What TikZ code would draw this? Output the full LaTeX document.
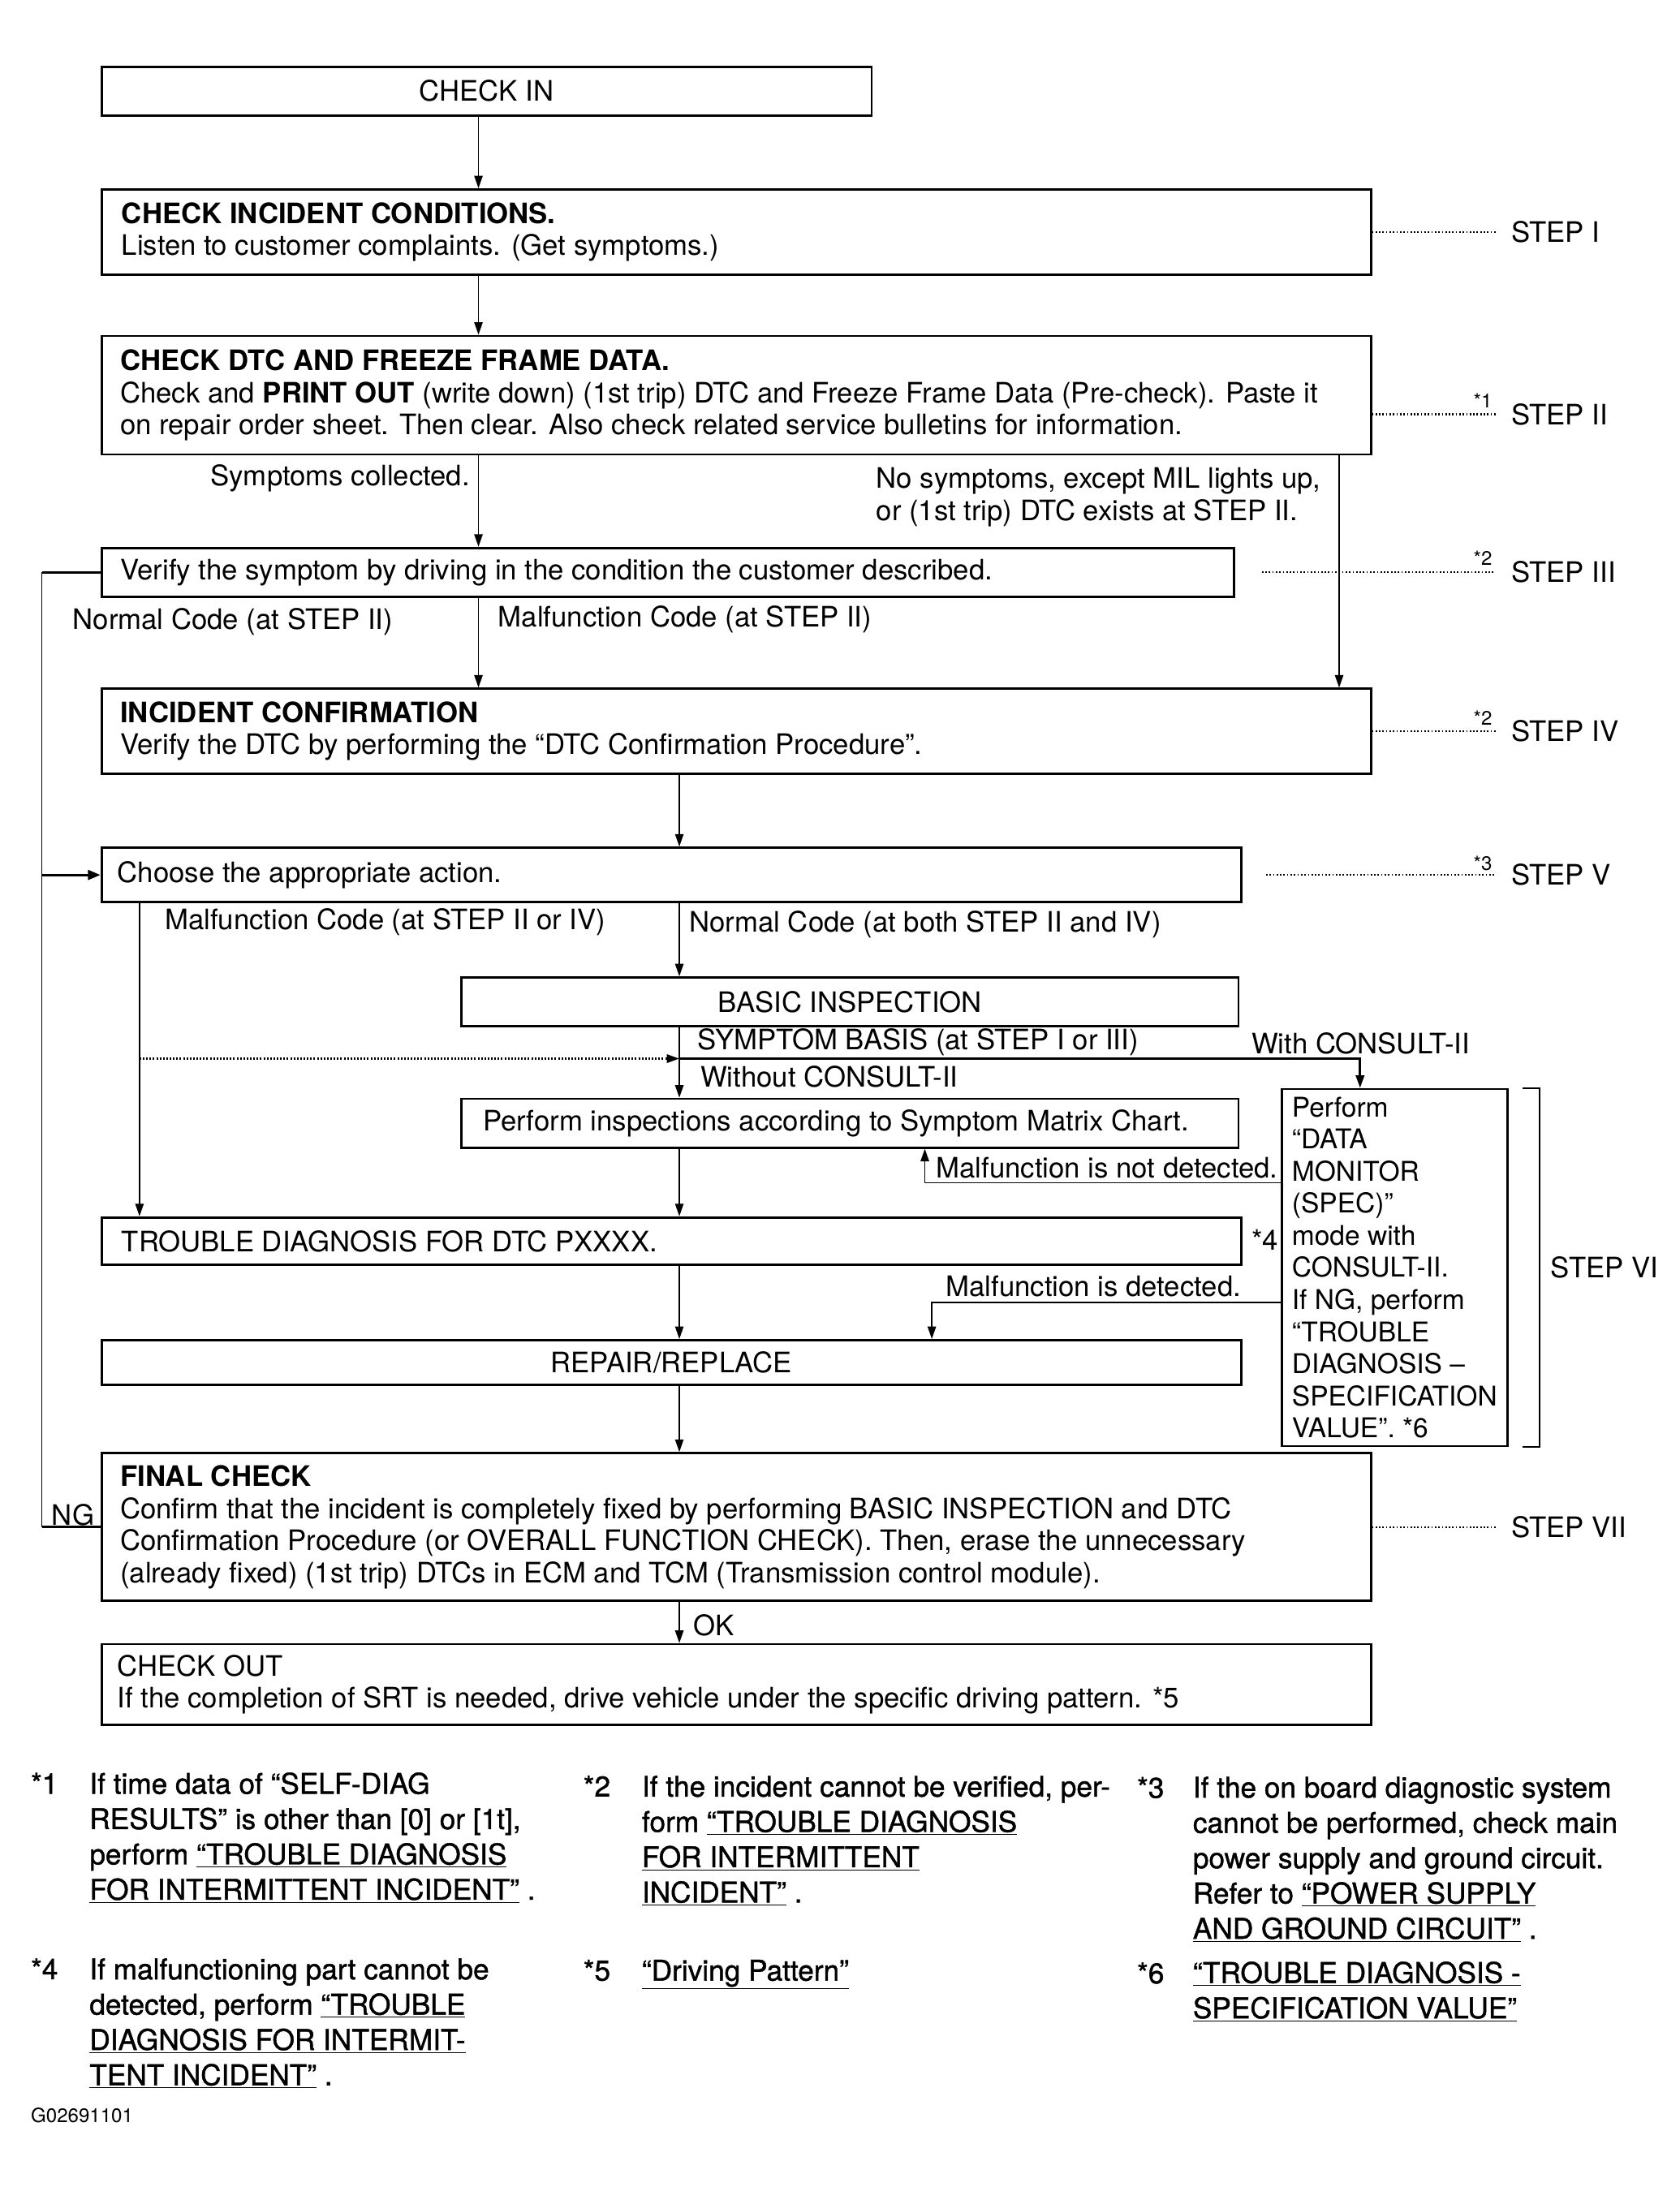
\documentclass[tikz,border=0pt]{standalone}
\usepackage{fontspec}
\setmainfont{TeX Gyre Heros}
\newfontfamily\notefont{TeX Gyre Heros}[FakeBold=1.2]
\usetikzlibrary{arrows.meta,calc,positioning}

\newcommand{\chartsize}{\fontsize{20.2}{23}\selectfont}
\newcommand{\notesize}{\notefont\fontsize{20.5}{25.3}\selectfont}
\newcommand{\fnlink}[1]{\underline{#1}}

\tikzset{
  box/.style={draw,line width=1.6pt,anchor=north west,inner sep=0pt},
  boxtext/.style={anchor=west,inner sep=0pt,align=left},
  lbl/.style={anchor=west,inner sep=0pt,align=left},
  flow/.style={line width=1pt,-{Triangle[length=9pt,width=6pt]}},
  stub/.style={line width=1.8pt},
  stepdots/.style={line width=1.2pt,dash pattern=on 1pt off 1.5pt},
  steplbl/.style={anchor=west,inner sep=0pt,xshift=11pt},
  star/.style={inner sep=0pt,font=\fontsize{14}{14}\selectfont},
  note/.style={anchor=base west,inner sep=0pt,align=left,font=\notesize},
}

\begin{document}
\begin{tikzpicture}[x=1pt,y=-1pt,font=\chartsize]
  \useasboundingbox (0,0) rectangle (1204,1568);

  % columns and levels of the connectors
  \coordinate (colL) at (30,0);
  \coordinate (colM) at (100,0);
  \coordinate (colA) at (343,0);
  \coordinate (colB) at (487,0);
  \coordinate (colR) at (960,0);
  \coordinate (withc) at (975,0);
  \coordinate (stepx) at (1072,0);
  \coordinate (s2) at (0,297);
  \coordinate (split) at (487,759);
  \coordinate (notdet) at (663,848);
  \coordinate (isdet) at (668,934);

  % boxes
  \node[box,minimum width=552pt,minimum height=35pt] (checkin) at (72,47) {CHECK IN};
  \node[box,minimum width=910pt,minimum height=61pt] (incident) at (72,135) {};
  \node[boxtext] (incidentT) at ([xshift=15pt]incident.west)
    {\textbf{CHECK INCIDENT CONDITIONS.}\\Listen to customer complaints. (Get symptoms.)};
  \node[box,minimum width=910pt,minimum height=85pt] (dtc) at (72,240) {};
  \node[boxtext] (dtcT) at ([xshift=14pt]dtc.west)
    {\textbf{CHECK DTC AND FREEZE FRAME DATA.}\\
     Check and \textbf{PRINT OUT} (write down) (1st trip) DTC and Freeze Frame Data (Pre-check). Paste it\\
     on repair order sheet. Then clear. Also check related service bulletins for information.};
  \node[box,minimum width=812pt,minimum height=35pt] (verify) at (72,392) {};
  \node[boxtext] (verifyT) at ([xshift=14pt]verify.west)
    {Verify the symptom by driving in the condition the customer described.};
  \node[box,minimum width=910pt,minimum height=61pt] (confirm) at (72,493) {};
  \node[boxtext] (confirmT) at ([xshift=14pt]confirm.west)
    {\textbf{INCIDENT CONFIRMATION}\\Verify the DTC by performing the “DTC Confirmation Procedure”.};
  \node[box,minimum width=817pt,minimum height=39pt] (choose) at (72,607) {};
  \node[boxtext] (chooseT) at ([xshift=12pt]choose.west) {Choose the appropriate action.};
  \node[box,minimum width=557pt,minimum height=35pt] (basic) at (330,700) {BASIC INSPECTION};
  \node[box,minimum width=557pt,minimum height=35pt] (matrix) at (330,787) {};
  \node[boxtext] (matrixT) at ([xshift=16pt]matrix.west)
    {Perform inspections according to Symptom Matrix Chart.};
  \node[box,minimum width=162pt,minimum height=256pt] (monitor) at (918,780) {};
  \node[boxtext,font=\fontsize{19.5}{23}\selectfont] (monitorT) at ([xshift=8pt]monitor.west)
    {Perform\\“DATA\\MONITOR\\(SPEC)”\\mode with\\CONSULT-II.\\If NG, perform\\“TROUBLE\\DIAGNOSIS –\\SPECIFICATION\\VALUE”. *6};
  \node[box,minimum width=817pt,minimum height=34pt] (trouble) at (72,872) {};
  \node[boxtext] (troubleT) at ([xshift=15pt]trouble.west) {TROUBLE DIAGNOSIS FOR DTC PXXXX.};
  \node[box,minimum width=817pt,minimum height=32pt] (repair) at (72,960) {REPAIR/REPLACE};
  \node[box,minimum width=910pt,minimum height=106pt] (final) at (72,1041) {};
  \node[boxtext] (finalT) at ([xshift=14pt]final.west)
    {\textbf{FINAL CHECK}\\
     Confirm that the incident is completely fixed by performing BASIC INSPECTION and DTC\\
     Confirmation Procedure (or OVERALL FUNCTION CHECK). Then, erase the unnecessary\\
     (already fixed) (1st trip) DTCs in ECM and TCM (Transmission control module).};
  \node[box,minimum width=910pt,minimum height=58pt] (checkout) at (72,1178) {};
  \node[boxtext] (checkoutT) at ([xshift=12pt]checkout.west)
    {CHECK OUT\\If the completion of SRT is needed, drive vehicle under the specific driving pattern. *5};

  % main flow
  \draw[flow] (checkin.south -| colA) -- (incident.north -| colA);
  \draw[flow] (incident.south -| colA) -- (dtc.north -| colA);
  \draw[flow] (dtc.south -| colA) -- (verify.north -| colA);
  \draw[flow] (dtc.south -| colR) -- (confirm.north -| colR);
  \draw[flow] (verify.south -| colA) -- (confirm.north -| colA);
  \draw[flow] (confirm.south -| colB) -- (choose.north -| colB);
  \draw[flow] (choose.south -| colM) -- (trouble.north -| colM);
  \draw[flow] (choose.south -| colB) -- (basic.north -| colB);
  \draw[flow] (basic.south -| colB) -- (matrix.north -| colB);
  \draw[flow,line width=1.6pt] (split) -| (monitor.north -| withc);
  \draw[flow,dash pattern=on 1.2pt off 1.2pt,line width=1.4pt] (colM |- split) -- (split);
  \draw[flow] (monitor.west |- notdet) -| (matrix.south -| notdet);
  \draw[flow] (monitor.west |- isdet) -| (repair.north -| isdet);
  \draw[flow] (matrix.south -| colB) -- (trouble.north -| colB);
  \draw[flow] (trouble.south -| colB) -- (repair.north -| colB);
  \draw[flow] (repair.south -| colB) -- (final.north -| colB);
  \draw[flow] (final.south -| colB) -- (checkout.north -| colB);

  % return loop on the left
  \draw[line width=1pt] (colL |- verify.west) -- (colL |- final.west);
  \draw[stub] (verify.west) -- (colL |- verify.west);
  \draw[stub] (final.west) -- (colL |- final.west);
  \draw[stub,-{Triangle[length=9pt,width=7pt]}] (colL |- choose.west) -- (choose.west);

  % branch labels
  \node[lbl,anchor=east] (symp) at (337,343) {Symptoms collected.};
  \node[lbl] (nosymp) at (628,356.5) {No symptoms, except MIL lights up,\\or (1st trip) DTC exists at STEP II.};
  \node[lbl] (normal2) at (52,446) {Normal Code (at STEP II)};
  \node[lbl] (malf2) at (357,444) {Malfunction Code (at STEP II)};
  \node[lbl] (malf24) at (118,661) {Malfunction Code (at STEP II or IV)};
  \node[lbl] (normal24) at (494,663) {Normal Code (at both STEP II and IV)};
  \node[lbl] (sbasis) at (500,747) {SYMPTOM BASIS (at STEP I or III)};
  \node[lbl] (withcon) at (897,748) {With CONSULT-II};
  \node[lbl] (withoutcon) at (502,772) {Without CONSULT-II};
  \node[lbl] (notdetT) at (671,837) {Malfunction is not detected.};
  \node[lbl] (isdetT) at (678,922) {Malfunction is detected.};
  \node[lbl] (star4) at (897,889) {*4};
  \node[lbl] (ng) at (37,1086) {NG};
  \node[lbl] (ok) at (497,1165) {OK};

  % steps
  \draw[stepdots] (incident.east) -- (stepx |- incident.east) node[steplbl] (stepI) {STEP I};
  \draw[stepdots] (dtc.east |- s2) -- (stepx |- s2) node[steplbl] (stepII) {STEP II};
  \draw[stepdots] ([xshift=19pt]verify.east) -- (stepx |- verify.east) node[steplbl] (stepIII) {STEP III};
  \draw[stepdots] (confirm.east) -- (stepx |- confirm.east) node[steplbl] (stepIV) {STEP IV};
  \draw[stepdots] ([xshift=17pt]choose.east) -- (stepx |- choose.east) node[steplbl] (stepV) {STEP V};
  \draw[stepdots] (final.east) -- (stepx |- final.east) node[steplbl] (stepVII) {STEP VII};
  \draw[line width=1.2pt] ([xshift=10pt]monitor.north east) -- ++(12,0)
    -- ([xshift=22pt]monitor.south east) -- ++(-12,0);
  \node[lbl] (stepVI) at ([xshift=30pt]monitor.east) {STEP VI};
  \node[star] (s1) at (1063,287) {*1};
  \node[star] (s3) at (1063,400) {*2};
  \node[star] (s4) at (1063,515) {*2};
  \node[star] (s5) at (1063,619) {*3};

  % notes (base = last line)
  \node[note] (fm1) at (22,1286) {*1};
  \node[note] (fn1) at (64,1362) {If time data of “SELF-DIAG\\RESULTS” is other than [0] or [1t],\\perform \fnlink{“TROUBLE DIAGNOSIS}\\\fnlink{FOR INTERMITTENT INCIDENT”} .};
  \node[note] (fm2) at (418,1288) {*2};
  \node[note] (fn2) at (460,1364) {If the incident cannot be verified, per-\\form \fnlink{“TROUBLE DIAGNOSIS}\\\fnlink{FOR INTERMITTENT}\\\fnlink{INCIDENT”} .};
  \node[note] (fm3) at (815,1289) {*3};
  \node[note] (fn3) at (855,1390) {If the on board diagnostic system\\cannot be performed, check main\\power supply and ground circuit.\\Refer to \fnlink{“POWER SUPPLY}\\\fnlink{AND GROUND CIRCUIT”} .};
  \node[note] (fm4) at (22,1419) {*4};
  \node[note] (fn4) at (64,1495) {If malfunctioning part cannot be\\detected, perform \fnlink{“TROUBLE}\\\fnlink{DIAGNOSIS FOR INTERMIT-}\\\fnlink{TENT INCIDENT”} .};
  \node[note] (fm5) at (418,1420) {*5};
  \node[note] (fn5) at (460,1420) {\fnlink{“Driving Pattern”}};
  \node[note] (fm6) at (815,1422) {*6};
  \node[note] (fn6) at (855,1447) {\fnlink{“TROUBLE DIAGNOSIS -}\\\fnlink{SPECIFICATION VALUE”}};
  \node[anchor=base west,inner sep=0pt,font=\fontsize{14}{14}\selectfont] (code) at (22,1522) {G02691101};
\end{tikzpicture}
\end{document}
